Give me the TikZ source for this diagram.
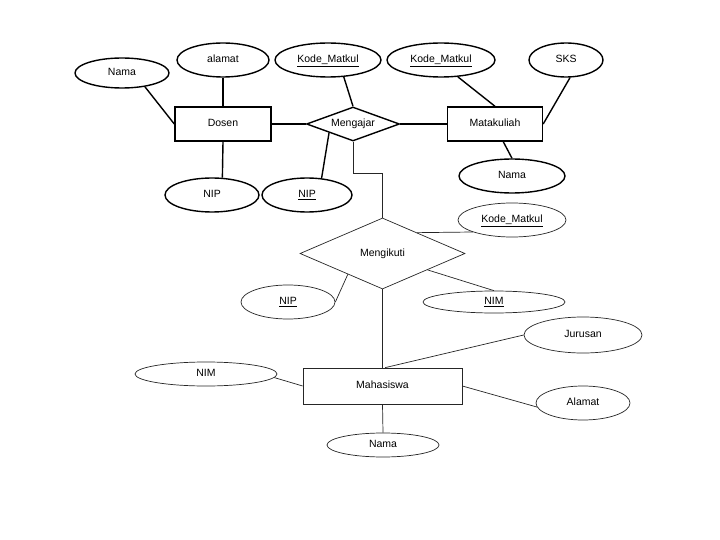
\documentclass[tikz,border=0pt]{standalone}
\usepackage{fontspec}
\setmainfont{Liberation Sans}
\usetikzlibrary{shapes.geometric}
\begin{document}
\begin{tikzpicture}[x=1pt,y=-1pt,
  font=\fontsize{10.5}{12}\selectfont,
  thk/.style={line width=1.4pt, draw=black},
  thn/.style={line width=0.7pt, draw=black!85},
  txt/.style={inner sep=0pt, text height=7.6pt, text depth=2.2pt},
  ent/.style={rectangle, txt},
  att/.style={ellipse, txt},
  rel/.style={diamond, txt, aspect=2.7}
]
\useasboundingbox[fill=white] (0,0) rectangle (720,540);

% ---- upper part (thick) ----
\node[ent, thk, minimum width=96, minimum height=34] (dosen) at (223,124) {Dosen};
\node[rel, thk, minimum width=93, minimum height=34] (mengajar) at (353,124) {Mengajar};
\node[ent, thk, minimum width=95, minimum height=34] (matkul) at (495,124) {Matakuliah};

\node[att, thk, minimum width=94, minimum height=30] (nama1) at (122,73) {Nama};
\node[att, thk, minimum width=92, minimum height=34] (alamat1) at (223,60) {alamat};
\node[att, thk, minimum width=106, minimum height=34] (kode1) at (328,60) {\underline{Kode\_Matkul}};
\node[att, thk, minimum width=108, minimum height=34] (kode2) at (441,60) {\underline{Kode\_Matkul}};
\node[att, thk, minimum width=74, minimum height=34] (sks) at (566,60) {SKS};
\node[att, thk, minimum width=94, minimum height=34] (nip1) at (212,195) {NIP};
\node[att, thk, minimum width=90, minimum height=34] (nip2) at (307,195) {\underline{NIP}};
\node[att, thk, minimum width=106, minimum height=34] (nama2) at (512,176) {Nama};

\draw[thk] (nama1.-31) -- (dosen.west);
\draw[thk] (alamat1.south) -- (dosen.north);
\draw[thk] (dosen.south) -- (nip1.59);
\draw[thk] (dosen.east) -- (mengajar.west);
\draw[thk] (kode1.-47) -- (mengajar.north);
\draw[thk] (mengajar.200) -- (nip2.49);
\draw[thk] (mengajar.east) -- (matkul.west);
\draw[thk] (kode2.-45) -- (matkul.north);
\draw[thk] (sks.-77) -- (matkul.east);
\draw[thk] (matkul.-65) -- (nama2.north);

% ---- lower part (thin) ----
\node[rel, thn, minimum width=165, minimum height=71] (mengikuti) at (382.5,253.5) {Mengikuti};
\node[ent, thn, minimum width=159, minimum height=36] (mhs) at (382.5,386) {Mahasiswa};

\node[att, thn, minimum width=108, minimum height=34] (kode3) at (512,220) {\underline{Kode\_Matkul}};
\node[att, thn, minimum width=94, minimum height=34] (nip3) at (288,302) {\underline{NIP}};
\node[att, thn, minimum width=142, minimum height=22] (nim1) at (494,302) {\underline{NIM}};
\node[att, thn, minimum width=118, minimum height=36] (jur) at (583,335) {Jurusan};
\node[att, thn, minimum width=142, minimum height=24] (nim2) at (206,374) {NIM};
\node[att, thn, minimum width=94, minimum height=34] (alamat2) at (583,403) {Alamat};
\node[att, thn, minimum width=112, minimum height=24] (nama3) at (383,445) {Nama};

\draw[thn] (mengajar.south) -- ++(0,32) -| (mengikuti.north);
\draw[thn] (mengikuti.31) -- (kode3.197);
\draw[thn] (mengikuti.211) -- (nip3.east);
\draw[thn] (mengikuti.-20) -- (nim1.north);
\draw[thn] (mengikuti.south) -- (mhs.north);
\draw[thn] (jur.west) -- (mhs.82);
\draw[thn] (nim2.-3.4) -- (mhs.west);
\draw[thn] (mhs.east) -- (alamat2.185);
\draw[thn] (mhs.south) -- (nama3.north);
\end{tikzpicture}
\end{document}
